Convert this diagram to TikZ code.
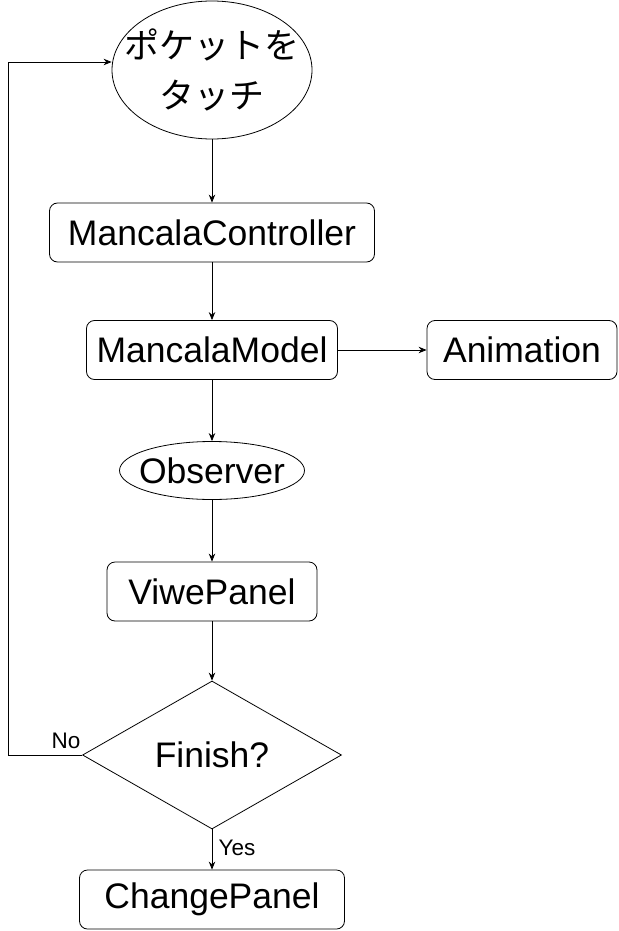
\documentclass[tikz,border=0pt]{standalone}
\usepackage{fontspec}
\setsansfont{Liberation Sans}
\newfontfamily\jpfont{Noto Sans CJK JP}
\usetikzlibrary{arrows.meta, shapes.geometric}

\begin{document}
\begin{tikzpicture}[
    x=1pt, y=-1pt,
    every node/.style={font=\sffamily},
]

% ---------------------------------------------------------------- colours
\definecolor{ink}{HTML}{000000}      % outlines, arrows, words
\definecolor{paper}{HTML}{FFFFFF}

% ================================================================
% Geometry in pixels of the 618 x 931 page, y running down.
%
%   one column of nodes at x = 212
%   pocket ellipse 200 x 138 at y = 70, loop back enters it at y = 62
%   boxes 59 high; the model row also holds "Animation" at x = 522
%   decision diamond 259 x 148 at y = 755, "No" loop runs at x = 8
% ================================================================

\tikzset{
    stepbox/.style={
        draw=ink, line width=0.8pt, fill=paper,
        rounded corners=8pt,
        minimum height=59pt, inner sep=0pt,
        font=\sffamily\fontsize{35.5}{40}\selectfont,
    },
    oval/.style={
        ellipse, draw=ink, line width=0.8pt, fill=paper,
        inner xsep=-40pt, inner ysep=-30pt,
    },
    choice/.style={
        diamond, draw=ink, line width=0.8pt, fill=paper,
        inner sep=0pt,
        font=\sffamily\fontsize{35.5}{40}\selectfont,
    },
    flow/.style={
        draw=ink, line width=0.8pt,
        -{Stealth[length=8pt, width=6.5pt]},
    },
    branch/.style={font=\sffamily\fontsize{22.5}{25}\selectfont, text=ink},
}

\useasboundingbox (0,0) rectangle (618,931);

% ---------------------------------------------------------------- the nodes
\node[oval, minimum width=200pt, minimum height=138pt, align=center,
      font=\jpfont\fontsize{35}{50}\selectfont] (poke) at (212,70)
    {ポケットを\\タッチ};
\node[stepbox, minimum width=325pt] (ctrl)  at (212,232.5) {MancalaController};
\node[stepbox, minimum width=251pt] (model) at (212,350)   {MancalaModel};
\node[stepbox, minimum width=190pt] (anim)  at (522,350)   {Animation};
\node[oval, minimum width=185pt, minimum height=58pt,
      font=\sffamily\fontsize{35.5}{40}\selectfont] (obs) at (212,470.5)
    {Observer};
\node[stepbox, minimum width=210pt] (view)  at (212,591.5) {ViwePanel};
\node[choice, minimum width=259pt, minimum height=148pt] (done) at (212,755)
    {Finish?};
\node[stepbox, minimum width=265pt] (change) at (212,899.5) {ChangePanel};

% ---------------------------------------------------------------- the arrows
\draw[flow] (poke)  -- (ctrl);
\draw[flow] (ctrl)  -- (model);
\draw[flow] (model) -- (anim);
\draw[flow] (model) -- (obs);
\draw[flow] (obs)   -- (view);
\draw[flow] (view)  -- (done);
\draw[flow] (done)  -- (change);

% back round to the start when the game goes on
\coordinate (loopLow) at (8,755);
\coordinate (loopTop) at (8,62);
\draw[flow] (done.west) -- (loopLow) -- (loopTop) -- (loopTop -| poke.west);

\node[branch] (no)  at (66,741)  {No};
\node[branch] (yes) at (237,848) {Yes};

\end{tikzpicture}
\end{document}
